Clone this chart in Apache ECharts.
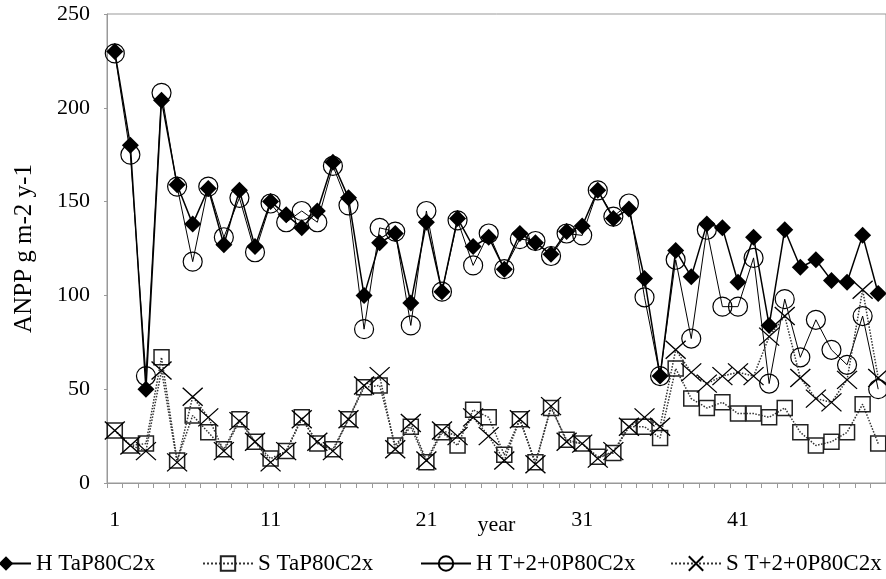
<!DOCTYPE html>
<html>
<head>
<meta charset="utf-8">
<script src="https://cdn.jsdelivr.net/npm/echarts@6/dist/echarts.min.js"></script>
<style>
  html, body { margin: 0; padding: 0; background: #fff; }
  #chart { width: 886px; height: 579px; }
</style>
</head>
<body>
<div id="chart"></div>
<script>
// Data
const years = [];
for (let y = 1; y <= 50; y++) years.push(String(y));

const hTaP = [230, 180, 50, 204, 159, 138, 157, 127, 156, 126,
              150, 143, 136, 145, 171, 152, 100, 128, 133, 96,
              139, 102, 141, 126, 131, 114, 133, 128, 122, 134,
              137, 156, 141, 146, 109, 57, 124, 110, 138, 136,
              107, 131, 84, 135, 115, 119, 108, 107, 132, 101];

const sTaP = [28, 20, 21, 67, 12, 36, 27, 18, 34, 22,
              13, 17, 35, 21, 18, 34, 51, 52, 20, 30,
              11, 27, 20, 39, 35, 15, 34, 11, 40, 23,
              21, 14, 16, 30, 30, 24, 61, 45, 40, 43,
              37, 37, 35, 40, 27, 20, 22, 27, 42, 21];

const hT2 = [229, 175, 57, 208, 158, 118, 158, 131, 152, 123,
             149, 139, 145, 139, 169, 148, 82, 136, 134, 84,
             145, 102, 140, 116, 133, 114, 130, 129, 121, 133,
             132, 156, 142, 149, 99, 57, 119, 77, 135, 94,
             94, 120, 53, 98, 67, 87, 71, 63, 89, 50];

const sT2 = [28, 20, 17, 60, 11, 46, 35, 17, 33, 22,
             11, 17, 34, 22, 17, 34, 52, 57, 18, 32,
             12, 28, 25, 35, 25, 12, 34, 10, 41, 22,
             21, 13, 17, 30, 35, 30, 71, 59, 53, 57,
             59, 57, 78, 89, 56, 45, 43, 55, 103, 56];

const names = ['H TaP80C2x', 'S TaP80C2x', 'H T+2+0P80C2x', 'S T+2+0P80C2x'];
const legendLeft = [-25, 197, 415, 665];

const serif = '"Liberation Serif", "DejaVu Serif", serif';
const xPath = 'path://M0,0L10,10M10,0L0,10';

const chart = echarts.init(document.getElementById('chart'));

chart.setOption({
    animation: false,
    backgroundColor: '#fff',
    grid: {
        left: 107, top: 14, right: -6, bottom: 96,
        show: true, borderColor: '#999', borderWidth: 1
    },
    legend: names.map((n, i) => ({
        data: [n],
        left: legendLeft[i],
        top: 547,
        itemWidth: 50,
        itemHeight: 18,
        itemGap: 0,
        textStyle: { fontFamily: serif, fontSize: 23, color: '#000' }
    })),
    xAxis: {
        type: 'category',
        data: years,
        boundaryGap: true,
        name: 'year',
        nameLocation: 'middle',
        nameGap: 31,
        nameMoveOverlap: false,
        nameTextStyle: { fontFamily: serif, fontSize: 22, color: '#000', verticalAlign: 'top' },
        axisLine: { lineStyle: { color: '#999', width: 1 } },
        axisTick: { show: true, interval: 0, length: 5, lineStyle: { color: '#999' } },
        axisLabel: { interval: 9, margin: 26, fontFamily: serif, fontSize: 22, color: '#000' },
        splitLine: { show: false }
    },
    yAxis: {
        type: 'value',
        min: 0, max: 250, interval: 50,
        name: 'ANPP g m-2 y-1',
        nameLocation: 'middle',
        nameRotate: 90,
        nameGap: 70,
        nameTextStyle: { fontFamily: serif, fontSize: 25, color: '#000' },
        axisLine: { show: true, lineStyle: { color: '#999', width: 1 } },
        axisTick: { show: true, length: 3, lineStyle: { color: '#999' } },
        axisLabel: { margin: 17, fontFamily: serif, fontSize: 22, color: '#000' },
        splitLine: { show: false }
    },
    series: [
        {
            name: names[2], type: 'line', data: hT2, z: 2,
            symbol: 'circle', symbolSize: 19, showAllSymbol: true,
            itemStyle: { color: 'rgba(0,0,0,0)', borderColor: '#000', borderWidth: 1.2 },
            lineStyle: { color: '#000', width: 1 }
        },
        {
            name: names[1], type: 'line', data: sTaP, z: 3,
            symbol: 'rect', symbolSize: 15, showAllSymbol: true,
            itemStyle: { color: 'rgba(0,0,0,0)', borderColor: '#222', borderWidth: 1.5 },
            lineStyle: { color: '#333', width: 1.5, type: 'dotted' }
        },
        {
            name: names[3], type: 'line', data: sT2, z: 4,
            symbol: xPath, symbolSize: [20, 18], showAllSymbol: true,
            itemStyle: { color: '#000', borderColor: '#000', borderWidth: 1.3 },
            lineStyle: { color: '#333', width: 1.5, type: 'dotted' }
        },
        {
            name: names[0], type: 'line', data: hTaP, z: 5,
            symbol: 'diamond', symbolSize: 17, showAllSymbol: true,
            itemStyle: { color: '#000', borderColor: '#000', borderWidth: 0 },
            lineStyle: { color: '#000', width: 1.5 }
        }
    ]
});
</script>
</body>
</html>
